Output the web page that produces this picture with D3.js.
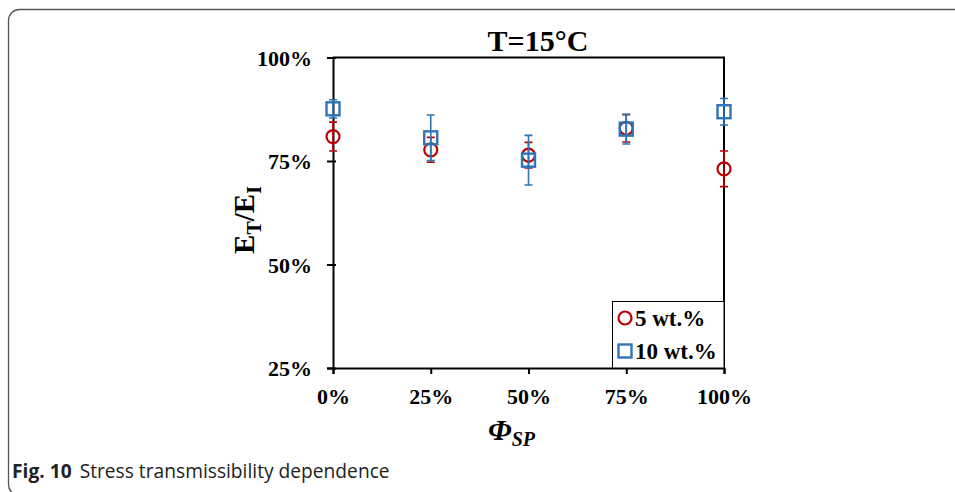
<!DOCTYPE html>
<html>
<head>
<meta charset="utf-8">
<script src="https://cdn.jsdelivr.net/npm/d3@7"></script>
<style>
  body { margin: 0; background: #fff; }
  svg { display: block; }
  .tick text { font-family: "Liberation Serif", "Times New Roman", serif; font-weight: bold; font-size: 22px; fill: #000; }
</style>
</head>
<body>
<svg id="chart"></svg>
<script>
const width = 955;
const height = 492;

// data
const fractions = [0, 0.25, 0.5, 0.75, 1.0];
const wt5 = [0.809, 0.777, 0.764, 0.829, 0.731];
const wt5Err = [0.035, 0.030, 0.031, 0.033, 0.043];
const wt10 = [0.876, 0.806, 0.752, 0.827, 0.869];
const wt10Err = [0.022, 0.055, 0.060, 0.036, 0.032];
const yTicks = [0.25, 0.5, 0.75, 1.0];
const seriesNames = ["5 wt.%", "10 wt.%"];
const colors = ["#C00000", "#2E75B6"];

const svg = d3.select("#chart")
    .attr("width", width)
    .attr("height", height);

// figure frame (rounded panel, runs off the right and bottom)
svg.append("rect")
    .attr("x", 8.5).attr("y", 9.5)
    .attr("width", 1000).attr("height", 486)
    .attr("rx", 11)
    .attr("fill", "none")
    .attr("stroke", "#555")
    .attr("stroke-width", 1.3);

const x = d3.scaleLinear().domain([0, 1]).range([333, 724]);
const y = d3.scaleLinear().domain([0.25, 1]).range([368, 57.5]);

// plot frame top + right
svg.append("path")
    .attr("d", `M${x(0)},${y(1)}H${x(1)}V${y(0.25)}`)
    .attr("fill", "none")
    .attr("stroke", "#000")
    .attr("stroke-width", 2);

const xAxis = svg.append("g")
    .attr("transform", `translate(0,${y(0.25)})`)
    .call(d3.axisBottom(x).tickValues(fractions).tickFormat(d3.format(".0%")).tickSize(6).tickPadding(14));

const yAxis = svg.append("g")
    .attr("transform", `translate(${x(0)},0)`)
    .call(d3.axisLeft(y).tickValues(yTicks).tickFormat(d3.format(".0%")).tickSize(6).tickPadding(15));

[xAxis, yAxis].forEach(a => {
    a.select(".domain").attr("stroke", "#000").attr("stroke-width", 2);
    a.selectAll(".tick line").attr("stroke", "#000").attr("stroke-width", 2);
});
xAxis.selectAll(".tick text").attr("dy", "0.71em");
yAxis.selectAll(".tick text").attr("dy", "0.35em");
// ticks crossing the axis a little
yAxis.selectAll(".tick line").attr("x2", -6).attr("x1", 3);
xAxis.selectAll(".tick line").attr("y1", 0);

// series
const series = [
    { name: seriesNames[0], values: wt5, err: wt5Err, color: colors[0], shape: "circle" },
    { name: seriesNames[1], values: wt10, err: wt10Err, color: colors[1], shape: "square" }
];

series.forEach(s => {
    const g = svg.append("g");
    const pts = fractions.map((f, i) => ({ f, v: s.values[i], e: s.err[i] }));

    g.selectAll("path.err")
        .data(pts)
        .enter().append("path")
        .attr("class", "err")
        .attr("d", d => {
            const cx = x(d.f), top = y(d.v + d.e), bot = y(d.v - d.e);
            return `M${cx},${top}V${bot}M${cx - 4},${top}H${cx + 4}M${cx - 4},${bot}H${cx + 4}`;
        })
        .attr("fill", "none")
        .attr("stroke", s.color)
        .attr("stroke-width", 1.6);

    if (s.shape === "circle") {
        g.selectAll("circle")
            .data(pts)
            .enter().append("circle")
            .attr("cx", d => x(d.f))
            .attr("cy", d => y(d.v))
            .attr("r", 6.5)
            .attr("fill", "none")
            .attr("stroke", s.color)
            .attr("stroke-width", 2.2);
    } else {
        g.selectAll("rect")
            .data(pts)
            .enter().append("rect")
            .attr("x", d => x(d.f) - 6.5)
            .attr("y", d => y(d.v) - 6.5)
            .attr("width", 13)
            .attr("height", 13)
            .attr("fill", "none")
            .attr("stroke", s.color)
            .attr("stroke-width", 2.4);
    }
});

// title
svg.append("text")
    .attr("x", 538)
    .attr("y", 51)
    .attr("text-anchor", "middle")
    .style("font-family", "'Liberation Serif', serif")
    .style("font-weight", "bold")
    .style("font-size", "30px")
    .text("T=15°C");

// y label
const yLab = svg.append("text")
    .attr("transform", "translate(254,220) rotate(-90)")
    .attr("text-anchor", "middle")
    .style("font-family", "'Liberation Serif', serif")
    .style("font-weight", "bold")
    .style("font-size", "29px");
yLab.append("tspan").text("E");
yLab.append("tspan").attr("dy", 7).style("font-size", "20px").text("T");
yLab.append("tspan").attr("dy", -7).text("/E");
yLab.append("tspan").attr("dy", 7).style("font-size", "20px").text("I");

// x label
const xLab = svg.append("text")
    .attr("x", 488)
    .attr("y", 440)
    .style("font-family", "'Liberation Serif', serif")
    .style("font-weight", "bold")
    .style("font-style", "italic")
    .style("font-size", "30px");
xLab.append("tspan").text("Φ");
xLab.append("tspan").attr("dy", 6).style("font-size", "20px").text("SP");

// legend
const legend = svg.append("g");
legend.append("rect")
    .attr("x", 612.5).attr("y", 301.5)
    .attr("width", x(1) - 612.5).attr("height", y(0.25) - 301.5)
    .attr("fill", "#fff")
    .attr("stroke", "#000")
    .attr("stroke-width", 1);

const legY = d3.scalePoint().domain(seriesNames).range([318, 351]);
series.forEach(s => {
    const cy = legY(s.name);
    if (s.shape === "circle") {
        legend.append("circle")
            .attr("cx", 625).attr("cy", cy).attr("r", 6.5)
            .attr("fill", "none").attr("stroke", s.color).attr("stroke-width", 2.2);
    } else {
        legend.append("rect")
            .attr("x", 618.5).attr("y", cy - 6.5).attr("width", 13).attr("height", 13)
            .attr("fill", "none").attr("stroke", s.color).attr("stroke-width", 2.4);
    }
    legend.append("text")
        .attr("x", 635)
        .attr("y", cy + 7.5)
        .style("font-family", "'Liberation Serif', serif")
        .style("font-weight", "bold")
        .style("font-size", "23px")
        .text(s.name);
});

// caption
const cap = svg.append("text")
    .attr("x", 12)
    .attr("y", 478)
    .style("font-family", "'Open Sans', sans-serif")
    .style("font-size", "19.2px")
    .style("fill", "#222");
cap.append("tspan").style("font-weight", "bold").text("Fig. 10");
cap.append("tspan").attr("dx", 8).text("Stress transmissibility dependence");
</script>
</body>
</html>
